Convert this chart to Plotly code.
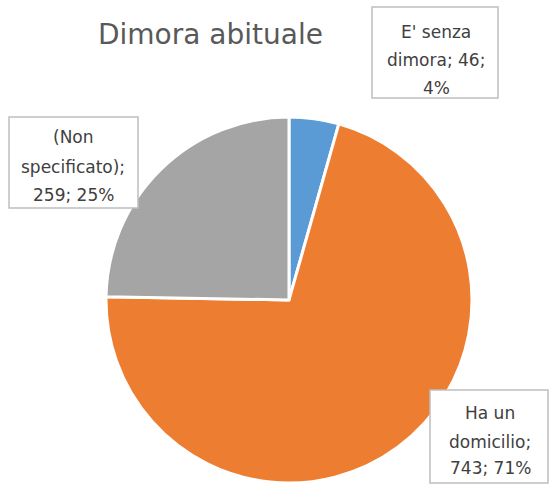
import plotly.graph_objects as go

# Dati: dimora abituale
categorie = ["E' senza dimora", "Ha un domicilio", "(Non specificato)"]
valori = [46, 743, 259]
colori = ["#5B9BD5", "#ED7D31", "#A5A5A5"]
# Etichette spezzate su più righe come nel riquadro
righe_nome = [["E' senza", "dimora"], ["Ha un", "domicilio"], ["(Non", "specificato)"]]

W, H = 550, 493
totale = sum(valori)


def righe_etichetta(i):
    pct = round(100 * valori[i] / totale)
    a, b = righe_nome[i]
    if i == 0:
        return [a, f"{b}; {valori[i]};", f"{pct}%"]
    return [a, f"{b};", f"{valori[i]}; {pct}%"]


fig = go.Figure()
fig.add_trace(go.Pie(
    labels=categorie,
    values=valori,
    sort=False,
    direction="clockwise",
    rotation=0,
    marker=dict(colors=colori, line=dict(color="white", width=3)),
    textinfo="none",
    hoverinfo="label+value+percent",
    showlegend=False,
    domain=dict(x=[105 / W, 473 / W], y=[(H - 483) / H, (H - 117) / H]),
))

# Riquadri etichetta: (x0, y0, x1, y1) in pixel, centro x del testo, y delle righe
riquadri = [
    ((372, 7, 498, 98), 436, [32, 60, 88]),
    ((430, 390, 548, 483), 490, [413, 442, 468]),
    ((9, 117, 138, 208), 73, [137, 167, 195]),
]
font_lab = dict(family="DejaVu Sans, sans-serif", size=17, color="#404040")
for i, ((x0, y0, x1, y1), cx, ys) in enumerate(riquadri):
    fig.add_shape(
        type="rect", xref="paper", yref="paper",
        x0=x0 / W, x1=x1 / W, y0=1 - y0 / H, y1=1 - y1 / H,
        line=dict(color="#BFBFBF", width=1.5), fillcolor="white", layer="above",
    )
    for testo, yy in zip(righe_etichetta(i), ys):
        fig.add_annotation(
            x=cx / W, y=1 - yy / H, xref="paper", yref="paper",
            text=testo, showarrow=False, font=font_lab,
            xanchor="center", yanchor="middle",
        )

fig.add_annotation(
    x=210 / W, y=1 - 35 / H, xref="paper", yref="paper",
    text="Dimora abituale", showarrow=False,
    font=dict(family="DejaVu Sans, sans-serif", size=28, color="#595959"),
    xanchor="center", yanchor="middle",
)

fig.update_layout(
    width=W, height=H,
    margin=dict(l=0, r=0, t=0, b=0),
    paper_bgcolor="white", plot_bgcolor="white",
)

fig.write_html("out.html")
